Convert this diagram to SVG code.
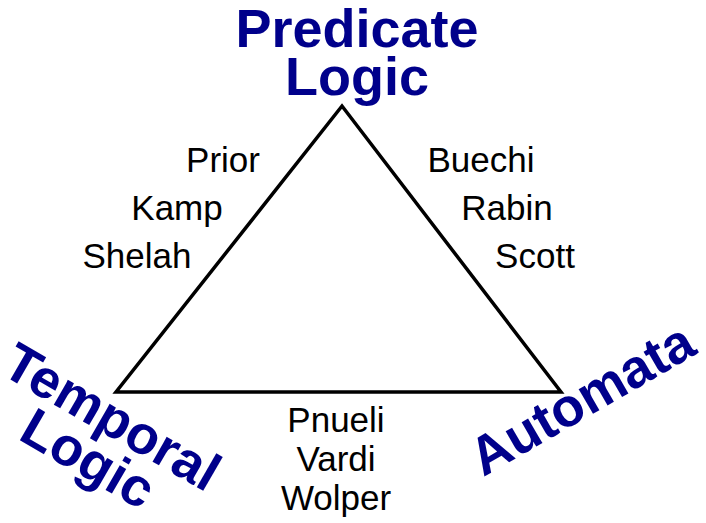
<svg xmlns="http://www.w3.org/2000/svg" width="706" height="523" viewBox="0 0 706 523">
<style>
.t{font-family:"Liberation Sans",Arial,sans-serif;font-weight:bold;font-size:54px;fill:#00008B;text-anchor:middle}
.n{font-family:"Liberation Sans",Arial,sans-serif;font-size:35px;fill:#000;text-anchor:middle}
.e{fill:none;stroke:#000;stroke-width:3.5;stroke-linejoin:miter;stroke-miterlimit:10}
</style>
<rect width="706" height="523" fill="#fff"/>
<g id="connectors">
<path class="e" d="M342,106 L116,392 L561,392 Z"/>
</g>
<g id="predicate-logic">
<text class="t" x="357" y="47">Predicate</text>
<text class="t" x="357" y="95">Logic</text>
</g>
<g id="temporal-logic">
<text class="t" transform="translate(103,433) rotate(30)"><tspan x="0" y="0">Temporal</tspan><tspan x="0" y="48">Logic</tspan></text>
</g>
<g id="automata">
<text class="t" transform="translate(591,415) rotate(-30)">Automata</text>
</g>
<g id="left-names">
<text class="n" x="223" y="172">Prior</text>
<text class="n" x="177" y="220">Kamp</text>
<text class="n" x="137" y="268">Shelah</text>
</g>
<g id="right-names">
<text class="n" x="481" y="172">Buechi</text>
<text class="n" x="507" y="220">Rabin</text>
<text class="n" x="535" y="268">Scott</text>
</g>
<g id="bottom-names">
<text class="n" x="336" y="432">Pnueli</text>
<text class="n" x="336" y="471">Vardi</text>
<text class="n" x="336" y="510">Wolper</text>
</g>
</svg>
